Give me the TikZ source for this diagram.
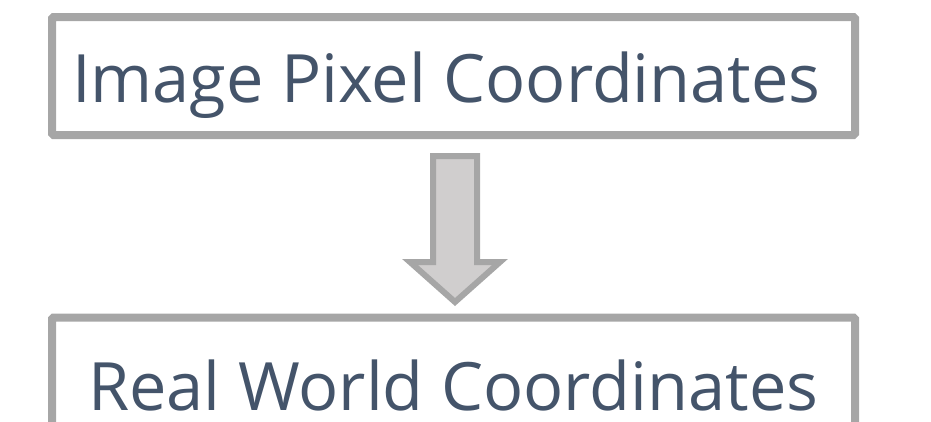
\documentclass[tikz,border=0pt]{standalone}
\usepackage{fontspec}
\usepackage{xcolor}
\usepackage{tikz}
\setmainfont{Open Sans}
\definecolor{boxgray}{HTML}{A6A6A6}
\definecolor{arrowfill}{HTML}{D0CECE}
\definecolor{slate}{HTML}{44546A}
\def\lbl#1{{\fontsize{66.7}{80}\selectfont #1}}

\begin{document}
\begin{tikzpicture}[x=1pt,y=-1pt]
    \tikzstyle{frame}=[draw=boxgray,line width=8pt,rounded corners=1.5pt,
      minimum width=803pt,minimum height=118pt,inner sep=0pt]
    \tikzstyle{caption}=[text=slate,anchor=base west,inner sep=0pt]
    \tikzstyle{blockarrow}=[draw=boxgray,fill=arrowfill,line width=6pt,line join=miter]
    \useasboundingbox (0,0) rectangle (931,421);
    \node[frame] (pixel) at (453.5,76) {};
    \node[frame] (world) at (453.5,376.5) {};
    \node[caption] (pixeltext) at (72,102) {\lbl{Image Pixel Coordinates}};
    \node[caption] (worldtext) at (88,410) {\lbl{Real World Coordinates}};
    % block arrow from pixel to world
    \draw[blockarrow] (433,156) -- (477,156) -- (477,262) -- (500,262)
      -- (455,302) -- (410,262) -- (433,262) -- cycle;
  \end{tikzpicture}
\end{document}
